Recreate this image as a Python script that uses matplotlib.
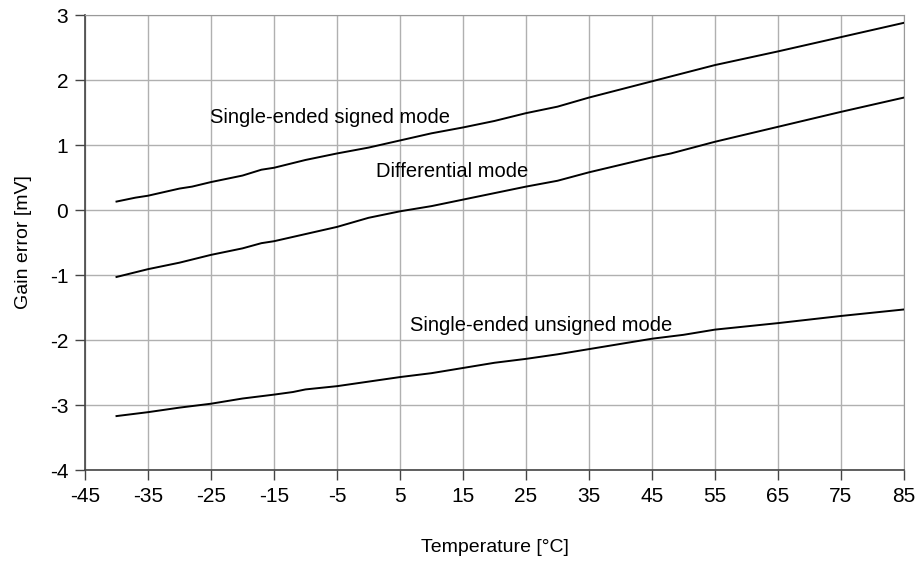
import matplotlib
matplotlib.use('Agg')
import matplotlib.pyplot as plt

plt.rcParams['font.family'] = ['Liberation Sans', 'DejaVu Sans']
plt.rcParams['axes.unicode_minus'] = False

# Gain error vs temperature
temp_signed = [-40, -37, -35, -30, -28, -25, -20, -17, -15, -10, -5, 0, 5, 10, 15, 20, 25, 30, 35, 45, 55, 65, 75, 85]
err_signed = [0.13, 0.19, 0.22, 0.33, 0.36, 0.43, 0.53, 0.62, 0.65, 0.77, 0.87, 0.96, 1.07, 1.18, 1.27, 1.37, 1.49, 1.59, 1.73, 1.98, 2.23, 2.44, 2.66, 2.88]

temp_diff = [-40, -35, -30, -25, -20, -17, -15, -10, -5, 0, 5, 10, 15, 20, 25, 30, 35, 45, 48, 55, 65, 75, 85]
err_diff = [-1.03, -0.91, -0.81, -0.69, -0.59, -0.51, -0.48, -0.37, -0.26, -0.12, -0.02, 0.06, 0.16, 0.26, 0.36, 0.45, 0.58, 0.81, 0.87, 1.05, 1.28, 1.51, 1.73]

temp_unsigned = [-40, -35, -30, -25, -20, -15, -12, -10, -5, 0, 5, 10, 15, 20, 25, 30, 35, 40, 45, 50, 55, 65, 75, 85]
err_unsigned = [-3.17, -3.11, -3.04, -2.98, -2.90, -2.84, -2.80, -2.76, -2.71, -2.64, -2.57, -2.51, -2.43, -2.35, -2.29, -2.22, -2.14, -2.06, -1.98, -1.92, -1.84, -1.74, -1.63, -1.53]

x_ticks = list(range(-45, 86, 10))
y_ticks = list(range(-4, 4))

fig = plt.figure(figsize=(9.23, 5.77), dpi=100)
ax = fig.add_axes([0.0921, 0.1854, 0.8873, 0.7886])

for t, e in [(temp_signed, err_signed), (temp_diff, err_diff), (temp_unsigned, err_unsigned)]:
    ax.plot(t, e, color='black', lw=1.4, zorder=3)

ax.text(-25.2, 1.42, 'Single-ended signed mode', fontsize=14.5, va='center')
ax.text(1.2, 0.59, 'Differential mode', fontsize=14.5, va='center')
ax.text(6.6, -1.78, 'Single-ended unsigned mode', fontsize=14.5, va='center')

ax.set_xlim(-45, 85)
ax.set_ylim(-4, 3)
ax.set_xticks(x_ticks)
ax.set_yticks(y_ticks)
ax.grid(True, color='#b0b0b0', lw=1)
ax.tick_params(direction='out', length=7, width=1, labelsize=15, color='#444444', pad=5)

for s in ['left', 'bottom']:
    ax.spines[s].set_color('#444444')
    ax.spines[s].set_linewidth(1.2)
for s in ['top', 'right']:
    ax.spines[s].set_color('#999999')

ax.set_xlabel('Temperature [°C]', fontsize=14, labelpad=24)
ax.set_ylabel('Gain error [mV]', fontsize=14, labelpad=13)

fig.savefig('out.png', dpi=100)
